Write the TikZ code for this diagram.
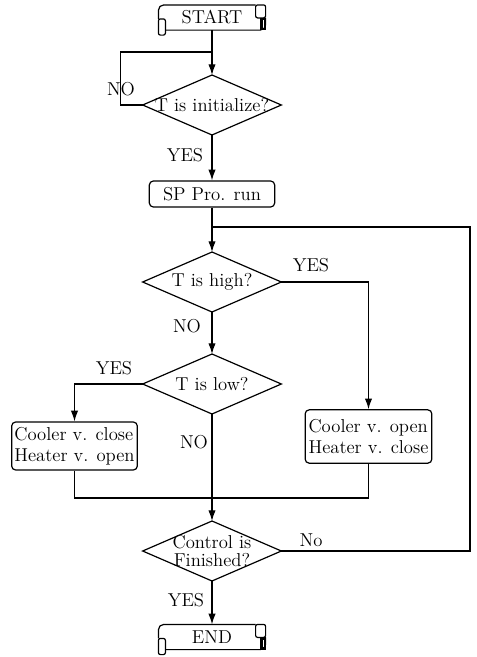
\documentclass[tikz,border=0pt]{standalone}
\usetikzlibrary{arrows.meta}
\usetikzlibrary{shapes.geometric}

\tikzset{
  flow/.style={line width=0.9pt},
  flowarrow/.style={line width=0.9pt, -{Latex[length=8pt, width=5.5pt]}},
  decision/.style={draw, line width=0.9pt, diamond, inner sep=0pt, outer sep=0pt,
    minimum width=104pt, minimum height=45pt},
  process/.style={draw, line width=0.9pt, rounded corners=3pt, align=left, inner sep=2pt},
  terminal/.style={inner sep=0pt, minimum width=80pt, minimum height=18.5pt},
}

% scroll shaped frame round a terminal node
\newcommand{\scrollframe}[1]{%
  \draw[flow, rounded corners=4pt] ([shift={(0,14)}]#1.north west) -- (#1.north west) -- ([shift={(-10,0)}]#1.north east);
  \draw[flow, rounded corners=4pt] ([shift={(7,0)}]#1.south west) -- (#1.south east) -- ([shift={(0,13)}]#1.north east);
  \draw[flow, rounded corners=1.5pt] ([shift={(0,14)}]#1.north west) rectangle ([shift={(7,5)}]#1.south west);
  \draw[flow, rounded corners=1.5pt] ([shift={(-10,0)}]#1.north east) rectangle ([shift={(0,13)}]#1.north east);
  \draw[line width=1.7pt] ([shift={(-4,14)}]#1.north east) rectangle ([shift={(-0.5,-1)}]#1.south east);
}

\begin{document}
\begin{tikzpicture}[x=0.75pt, y=-0.75pt, font=\fontsize{14}{16}\selectfont]
\useasboundingbox (0,0) rectangle (476,657);

% boxes
\node[terminal] (start) at (212,17.5) {START};
\scrollframe{start}
\node[decision, label={center:T is initialize?}] (init) at (212,105) {};
\node[process, minimum width=94pt, minimum height=19.5pt, align=center] (sp) at (212,194) {SP Pro. run};
\node[decision, label={center:T is high?}] (high) at (212,282) {};
\node[decision, label={center:T is low?}] (low) at (212,384) {};
\node[process, minimum width=94pt, minimum height=36pt] (cl) at (74.5,446) {Cooler v. close\\Heater v. open};
\node[process, minimum width=95pt, minimum height=40pt] (op) at (368.5,436.5) {Cooler v. open\\Heater v. close};
\node[decision, label={[align=center, font=\fontsize{14}{13.5}\selectfont]center:Control is\\Finished?}] (fin) at (212,551) {};
\node[terminal] (stop) at (212,637) {END};
\scrollframe{stop}

% joins
\coordinate (j1) at (212,52);
\coordinate (j2) at (212,227);
\coordinate (j3) at (212,498);
\coordinate (back) at (470,551);

% lines
\draw[flowarrow] (start) -- (init);
\draw[flow] (init.west) -- ++(-22,0) |- (j1);
\draw[flowarrow] (init) -- (sp);
\draw[flowarrow] (sp) -- (high);
\draw[flowarrow] (high.east) -| (op.north);
\draw[flowarrow] (high) -- (low);
\draw[flowarrow] (low.west) -| (cl.north);
\draw[flowarrow] (low) -- (fin);
\draw[flow] (cl.south) |- (j3) -| (op.south);
\draw[flow] (fin.east) -- (back) |- (j2);
\draw[flowarrow] (fin) -- (stop);

% labels
\node (no1) at (121,89) {NO};
\node (yes1) at (185,155) {YES};
\node (yes2) at (311,265) {YES};
\node (no2) at (187,326) {NO};
\node (yes3) at (114,368) {YES};
\node (no3) at (194,442) {NO};
\node (no4) at (311,540) {No};
\node (yes4) at (186,600) {YES};
\end{tikzpicture}
\end{document}
